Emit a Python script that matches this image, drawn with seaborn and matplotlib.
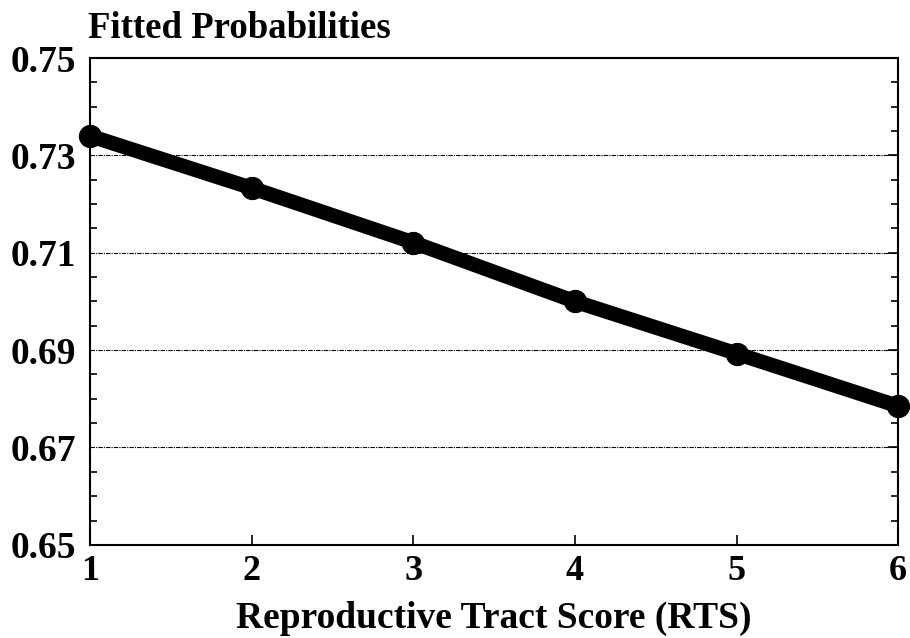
import matplotlib
matplotlib.use("Agg")
import matplotlib.pyplot as plt
import seaborn as sns
import pandas as pd
from matplotlib.ticker import MultipleLocator

rts = [1, 2, 3, 4, 5, 6]
prob = [0.7340, 0.7233, 0.7121, 0.7000, 0.6893, 0.6785]
yticks = [0.65, 0.67, 0.69, 0.71, 0.73, 0.75]
ytick_labels = ["0.65", "0.67", "0.69", "0.71", "0.73", "0.75"]
xticks = [1, 2, 3, 4, 5, 6]

sns.set_style("white")
plt.rcParams['font.family'] = ['Liberation Serif', 'DejaVu Serif']
plt.rcParams['font.weight'] = 'bold'
plt.rcParams['text.color'] = 'black'
plt.rcParams['xtick.color'] = 'black'
plt.rcParams['ytick.color'] = 'black'
plt.rcParams['axes.labelcolor'] = 'black'

df = pd.DataFrame({"RTS": rts, "P": prob})

fig = plt.figure(figsize=(9.1, 6.38), dpi=100)
ax = fig.add_axes([0.099, 0.146, 0.888, 0.763])
sns.lineplot(data=df, x="RTS", y="P", ax=ax, color="black", linewidth=10.5,
             marker="o", markersize=16, markeredgecolor="black", zorder=5,
             clip_on=False)

ax.set_xlim(1, 6)
ax.set_ylim(0.65, 0.75)
ax.set_yticks(yticks)
ax.set_yticklabels(ytick_labels)
ax.set_xticks(xticks)
ax.yaxis.set_minor_locator(MultipleLocator(0.005))
ax.grid(axis="y", which="major", color="black", linestyle=(0, (4, 1, 1, 1)), linewidth=0.8)
ax.tick_params(axis="both", which="both", direction="in",
               labelcolor="black", color="black")
ax.tick_params(axis="y", which="major", length=7, width=1.2, right=True, pad=10, labelsize=27)
ax.tick_params(axis="y", which="minor", length=5, width=1.2, left=True, right=True)
ax.tick_params(axis="x", which="major", length=7, width=1.2, bottom=True, pad=7, labelsize=26)
for lab in ax.get_xticklabels() + ax.get_yticklabels():
    lab.set_fontweight("bold")
    lab.set_color("black")
for s in ax.spines.values():
    s.set_color("black")
    s.set_linewidth(1.5)

ax.set_xlabel("Reproductive Tract Score (RTS)", fontsize=27, fontweight="bold",
              color="black", va="baseline")
ax.xaxis.set_label_coords(0.5, -(628 - 545) / 487)
ax.set_ylabel("")
fig.text(0.097, 0.9404, "Fitted Probabilities", fontsize=26.5, fontweight="bold",
         ha="left", va="baseline", color="black")

fig.savefig("out.png", dpi=100)
